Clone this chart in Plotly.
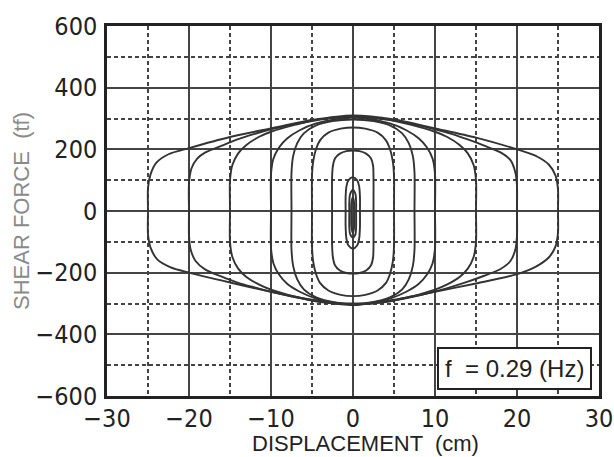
import plotly.graph_objects as go

# ---- data (displacement cm, shear force tf) ----
loop_25_x = [-25.0, -25.0, -24.7, -24.0, -22.5, -20, -15, -10, -5, 0, 5, 10, 15, 20, 22.5, 23.9, 24.7, 25.0, 25.0,
             25.0, 24.7, 23.9, 22.2, 20, 15, 10, 5, 0, -5, -10, -15, -20, -22.3, -23.9, -24.7, -25.0, -25.0]
loop_25_y = [0, 75, 118, 156, 184, 204, 240, 268, 295, 310, 297, 268, 238, 200, 176, 150, 115, 70, 0,
             -70, -115, -150, -182, -205, -235, -262, -288, -305, -290, -262, -232, -200, -182, -156, -118, -75, 0]

loop_20_x = [-20, -20, -19.7, -19, -18, -16, -14, -12, -10, -5, 0, 5, 10, 12, 14, 16, 18, 19.2, 19.8, 20, 20,
             20, 19.8, 19.2, 18, 16, 14, 12, 10, 5, 0, -5, -10, -12, -14, -16, -18, -19.2, -19.8, -20, -20]
loop_20_y = [0, 90, 138, 170, 190, 212, 233, 250, 265, 292, 307, 293, 265, 250, 232, 212, 190, 165, 125, 80, 0,
             -80, -125, -162, -188, -210, -229, -246, -261, -290, -303, -288, -262, -248, -233, -213, -190, -162, -125, -80, 0]

loop_15_x = [-15, -15, -14.7, -14, -13, -11.5, -10, -7, -4, 0, 4, 7, 10, 11.5, 13, 14, 14.7, 15, 15,
             15, 14.7, 14, 13, 11.5, 10, 7, 4, 0, -4, -7, -10, -11.5, -13, -14, -14.7, -15, -15]
loop_15_y = [0, 100, 150, 187, 214, 240, 257, 280, 298, 305, 297, 280, 257, 240, 214, 187, 150, 100, 0,
             -100, -150, -187, -214, -238, -255, -278, -295, -303, -295, -278, -255, -238, -214, -187, -150, -100, 0]

loop_10_x = [-10, -10, -9.7, -9, -8, -6.5, -4.5, -2, 0, 2, 4.5, 6.5, 8, 9, 9.7, 10, 10,
             10, 9.7, 9, 8, 6.5, 4.5, 2, 0, -2, -4.5, -6.5, -8, -9, -9.7, -10, -10]
loop_10_y = [0, 120, 170, 207, 236, 262, 284, 298, 303, 298, 284, 262, 236, 207, 170, 120, 0,
             -120, -170, -207, -237, -262, -284, -298, -303, -298, -284, -262, -237, -207, -170, -120, 0]

loop_7_x = [-7.5, -7.5, -7.3, -6.8, -6, -4.5, -2.5, 0, 2.5, 4.5, 6, 6.8, 7.3, 7.5, 7.5,
            7.5, 7.3, 6.8, 6, 4.5, 2.5, 0, -2.5, -4.5, -6, -6.8, -7.3, -7.5, -7.5]
loop_7_y = [0, 125, 178, 220, 252, 278, 292, 297, 292, 278, 252, 220, 178, 125, 0,
            -125, -178, -222, -254, -280, -295, -300, -295, -280, -254, -222, -178, -125, 0]

loop_5_x = [-5, -5, -4.85, -4.5, -4, -3, -1.5, 0, 1.5, 3, 4, 4.5, 4.85, 5, 5,
            5, 4.85, 4.5, 4, 3, 1.5, 0, -1.5, -3, -4, -4.5, -4.85, -5, -5]
loop_5_y = [0, 115, 162, 202, 230, 254, 267, 271, 267, 254, 230, 202, 162, 115, 0,
            -115, -165, -205, -234, -258, -272, -276, -272, -258, -234, -205, -165, -115, 0]

loop_2_x = [-2.55, -2.55, -2.45, -2.2, -1.6, -0.8, 0, 0.8, 1.6, 2.2, 2.45, 2.5, 2.5,
            2.5, 2.45, 2.2, 1.6, 0.8, 0, -0.8, -1.6, -2.2, -2.45, -2.55, -2.55]
loop_2_y = [0, 110, 146, 170, 186, 194, 196, 194, 186, 170, 146, 110, 0,
            -110, -150, -176, -193, -201, -203, -201, -193, -176, -150, -110, 0]

loop_1_x = [-0.9, -0.9, -0.8, -0.55, 0, 0.5, 0.75, 0.85, 0.85, 0.85, 0.75, 0.5, 0, -0.55, -0.8, -0.9, -0.9]
loop_1_y = [0, 45, 80, 100, 110, 100, 80, 45, 0, -50, -90, -112, -122, -112, -90, -50, 0]

loop_05_x = [-0.45, -0.45, -0.35, 0, 0.3, 0.38, 0.38, 0.38, 0.3, 0, -0.35, -0.45, -0.45]
loop_05_y = [-8, 30, 55, 68, 55, 30, -8, -50, -75, -86, -75, -50, -8]

loop_02_x = [-0.22, -0.2, -0.02, 0.15, 0.16, 0.15, -0.02, -0.2, -0.22]
loop_02_y = [-12, 25, 45, 25, -12, -50, -72, -50, -12]

x_ticks = [-30, -20, -10, 0, 10, 20, 30]
y_ticks = [-600, -400, -200, 0, 200, 400, 600]
x_title = "DISPLACEMENT \u00a0(cm)"
y_title = "SHEAR FORCE \u00a0(tf)"
legend_text = "f \u00a0= 0.29 (Hz)"

loops = [
    (loop_25_x, loop_25_y), (loop_20_x, loop_20_y), (loop_15_x, loop_15_y),
    (loop_10_x, loop_10_y), (loop_7_x, loop_7_y), (loop_5_x, loop_5_y),
    (loop_2_x, loop_2_y), (loop_1_x, loop_1_y), (loop_05_x, loop_05_y),
    (loop_02_x, loop_02_y),
]

fig = go.Figure()
for lx, ly in loops:
    fig.add_trace(go.Scatter(
        x=lx, y=ly, mode="lines",
        line=dict(color="#333333", width=1.9, shape="spline", smoothing=0.8),
        hoverinfo="skip", showlegend=False,
    ))

tick_font = dict(family="DejaVu Sans Condensed, Liberation Sans Narrow, Arial Narrow, sans-serif",
                 size=25, color="#222222")

fig.update_xaxes(
    range=[-30, 30], tickvals=x_ticks, ticks="", tickfont=tick_font, automargin=False,
    ticklabelstandoff=-2,
    showgrid=True, gridcolor="#444444", gridwidth=1.7,
    minor=dict(dtick=5, tick0=0, showgrid=True, gridcolor="#444444", gridwidth=1.5, griddash="4px,3px"),
    showline=True, linecolor="#222222", linewidth=2.5, mirror=True,
    zeroline=False,
)
fig.update_yaxes(
    range=[-600, 600], tickvals=y_ticks, ticks="", tickfont=tick_font, automargin=False,
    ticklabelstandoff=2,
    showgrid=True, gridcolor="#444444", gridwidth=1.7,
    minor=dict(dtick=100, tick0=0, showgrid=True, gridcolor="#444444", gridwidth=1.5, griddash="4px,3px"),
    showline=True, linecolor="#222222", linewidth=2.5, mirror=True,
    zeroline=False,
    title=dict(text=y_title, font=dict(family="Liberation Sans, Arial, sans-serif",
                                       size=22, color="#8a8a8a"), standoff=0),
)

# x-axis title (placed slightly right of centre, as in the reference)
fig.add_annotation(
    xref="paper", yref="paper", x=0.526, y=-0.088, xanchor="center", yanchor="top",
    text=x_title, showarrow=False,
    font=dict(family="Liberation Sans, Arial, sans-serif", size=22, color="#222222"),
)

fig.add_annotation(
    xref="paper", yref="paper", x=0.986, y=0.016, xanchor="right", yanchor="bottom",
    text=legend_text, showarrow=False,
    font=dict(family="Liberation Sans, Arial, sans-serif", size=24, color="#222222"),
    bgcolor="white", bordercolor="#222222", borderwidth=2, borderpad=6,
)

fig.update_layout(
    width=614, height=457,
    margin=dict(l=107, r=15, t=26, b=61),
    paper_bgcolor="white", plot_bgcolor="white",
    showlegend=False,
)

fig.write_html("out.html", config={"displayModeBar": False},
               post_script="document.body.style.margin='0';document.body.style.padding='0';")
